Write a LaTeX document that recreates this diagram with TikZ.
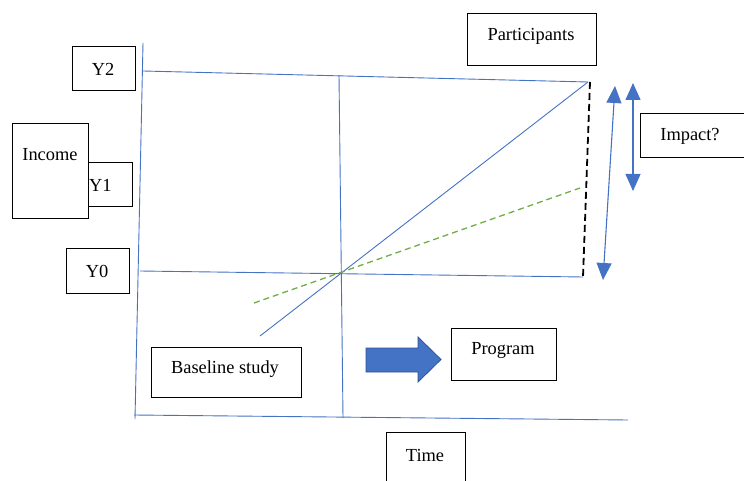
\documentclass[tikz,border=0pt]{standalone}
\usepackage{fontspec}
\setmainfont{Liberation Serif}
\usetikzlibrary{arrows.meta}
\definecolor{oblue}{HTML}{4472C4}
\definecolor{oblued}{HTML}{2F528F}
\definecolor{ogreen}{HTML}{70AD47}
\begin{document}
\begin{tikzpicture}[x=1pt,y=-1pt,
  box/.style={draw=black,line width=1pt,inner sep=0pt,anchor=north west,fill=white},
  txt/.style={inner sep=0pt,font=\fontsize{18.4}{20}\selectfont},
  bl/.style={draw=oblue,line width=0.9pt},
  dblarrow/.style={draw=oblue,line width=1.1pt,{Triangle[width=15pt,length=17pt]}-{Triangle[width=15pt,length=17pt]}}]
\useasboundingbox (0,0) rectangle (744,481);
% coordinates
\coordinate (vaT) at (143,43);
\coordinate (vaB) at (135,419);
\coordinate (haL) at (134,415);
\coordinate (haR) at (628,420);
\coordinate (mT) at (339,75);
\coordinate (mB) at (343,418);
\coordinate (y2L) at (143,71);
\coordinate (y2R) at (588,82);
\coordinate (y0L) at (140,271);
\coordinate (y0R) at (583,277);
\coordinate (dS) at (260,336);
\coordinate (gS) at (254,303);
\coordinate (gE) at (580,188);
\coordinate (kT) at (590,82);
\coordinate (kB) at (583,277);
\coordinate (a1T) at (615,86);
\coordinate (a1B) at (603,280);
\coordinate (a2T) at (633,83);
\coordinate (a2B) at (633,191);
% axes and lines
\draw[bl] (vaT) -- (vaB);
\draw[bl] (haL) -- (haR);
\draw[bl] (mT) -- (mB);
\draw[bl] (y2L) -- (y2R);
\draw[bl] (y0L) -- (y0R);
\draw[bl] (dS) -- (y2R);
\draw[draw=ogreen,line width=1.3pt,dash pattern=on 6pt off 4pt] (gS) -- (gE);
\draw[black,line width=1.8pt,dash pattern=on 7pt off 4pt] (kT) -- (kB);
\draw[dblarrow] (a1T) -- (a1B);
\draw[dblarrow] (a2T) -- (a2B);
% block arrow
\draw[fill=oblue,draw=oblued,line width=0.8pt] (366,348) -- (418,348) -- (418,337) -- (441,359.5) -- (418,382) -- (418,372) -- (366,372) -- cycle;
% boxes
\node[box,minimum width=63pt,minimum height=44pt] (y2) at (72,46) {};
\node[txt] (y2t) at (103,69) {Y2};
\node[box,minimum width=44pt,minimum height=44pt] (y1) at (88,162) {};
\node[box,minimum width=76pt,minimum height=95pt] (inc) at (12,123) {};
\node[txt] (inct) at (50,155) {Income};
\node[txt,anchor=west] (y1t) at (89,185) {Y1};
\node[box,minimum width=63pt,minimum height=45pt] (y0) at (66,248) {};
\node[txt] (y0t) at (97,271) {Y0};
\node[box,minimum width=129pt,minimum height=52pt] (part) at (467,13) {};
\node[txt] (partt) at (531,36) {Participants};
\node[box,minimum width=110pt,minimum height=44pt] (imp) at (640,113) {};
\node[txt] (impt) at (690,136) {Impact?};
\node[box,minimum width=150pt,minimum height=50pt] (base) at (151,347) {};
\node[txt] (baset) at (225,369) {Baseline study};
\node[box,minimum width=105pt,minimum height=52pt] (prog) at (451,328) {};
\node[txt] (progt) at (503,350) {Program};
\node[box,minimum width=79pt,minimum height=55pt] (time) at (386,432) {};
\node[txt] (timet) at (425,455) {Time};
\end{tikzpicture}
\end{document}
